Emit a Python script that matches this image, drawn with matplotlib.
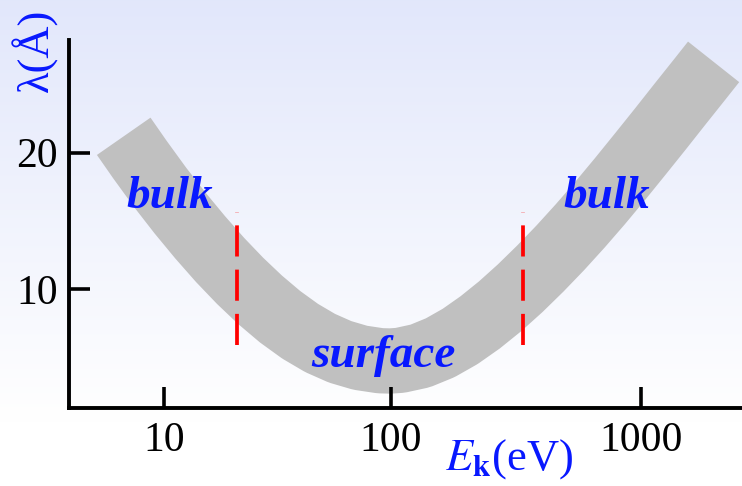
import numpy as np
import matplotlib
matplotlib.use('Agg')
import matplotlib.pyplot as plt
from matplotlib.ticker import NullLocator

# fonts
plt.rcParams['font.family'] = ['Liberation Serif', 'DejaVu Serif']
plt.rcParams['mathtext.fontset'] = 'stix'

# mean free path band (centre line), energy in eV, lambda in Angstrom
energy = [6.64, 7.84, 9.60, 11.77, 14.42, 17.66, 21.64, 26.51, 32.49, 39.81, 48.76,
          59.77, 73.21, 89.73, 99.3, 108.9, 131.0, 157.5, 189.3, 227.6, 273.6,
          329.0, 395.5, 475.5, 571.6, 687.3, 826.3, 993.6, 1195, 1436, 1727, 1952]
mfp = [21.20, 19.48, 17.47, 15.58, 13.81, 12.15, 10.62, 9.23, 7.99, 6.93, 6.07,
       5.42, 4.99, 4.77, 4.75, 4.80, 5.12, 5.72, 6.55, 7.58, 8.76,
       10.08, 11.51, 13.03, 14.64, 16.33, 18.09, 19.90, 21.73, 23.58, 25.42, 26.65]

# surface / bulk boundaries
bounds = [21, 337]
bound_lo = 5.9
bound_hi = 15.65

xticks = [10, 100, 1000]
xticklabels = ['10', '100', '1000']
yticks = [10, 20]

blue = '#0818ff'

# log axis with slightly unequal decades
def fwd(x):
    u = np.log10(np.maximum(x, 1e-12))
    return np.where(u < 2, (u - 1) * 226.7, 226.7 + (u - 2) * 250)

def inv(p):
    return np.where(p < 226.7, 10 ** (p / 226.7 + 1), 10 ** ((p - 226.7) / 250 + 2))

fig = plt.figure(figsize=(7.42, 4.86), dpi=100)

# background gradient
bg = fig.add_axes([0, 0, 1, 1], zorder=0)
grad = np.clip(np.linspace(0, 1.15, 256), 0, 1)[:, None]
top = np.array([0.886, 0.906, 0.984])
img = top[None, None, :] * (1 - grad[:, :, None]) + np.ones(3)[None, None, :] * grad[:, :, None]
bg.imshow(img, aspect='auto', extent=[0, 1, 0, 1], origin='upper')
bg.set_axis_off()

ax = fig.add_axes([69 / 742, 1 - 408 / 486, 1 - 69 / 742, (408 - 40) / 486], zorder=1)
ax.set_facecolor('none')
ax.set_xscale('function', functions=(fwd, inv))
ax.set_xlim(3.81, 2535)
ax.set_ylim(1.31, 28.25)

# the band
ax.plot(energy, mfp, color='#c0c0c0', lw=47, solid_capstyle='butt', solid_joinstyle='round', zorder=1)

# dashed boundaries
for b in bounds:
    ax.plot([b, b], [bound_lo, bound_hi], color='red', lw=2.7, dashes=(8.3, 3.5), zorder=2)

# region labels
ax.text(10.6, 15.95, 'bulk', color=blue, fontsize=34, fontweight='bold', fontstyle='italic', ha='center', va='baseline', zorder=3)
ax.text(727, 15.95, 'bulk', color=blue, fontsize=34, fontweight='bold', fontstyle='italic', ha='center', va='baseline', zorder=3)
ax.text(92.5, 4.33, 'surface', color=blue, fontsize=34, fontweight='bold', fontstyle='italic', ha='center', va='baseline', zorder=3)

# spines
ax.spines['top'].set_visible(False)
ax.spines['right'].set_visible(False)
ax.spines['left'].set_linewidth(2.8)
ax.spines['bottom'].set_linewidth(2.8)

# ticks
ax.set_xticks(xticks)
ax.set_xticklabels(xticklabels)
ax.set_yticks(yticks)
ax.xaxis.set_minor_locator(NullLocator())
ax.yaxis.set_minor_locator(NullLocator())
ax.tick_params(direction='in', length=15, width=2.6, labelsize=30)
ax.tick_params(axis='x', pad=10)
ax.tick_params(axis='y', pad=8)

# axis labels
fig.text(35 / 742, 1 - 50 / 486, 'λ(Å)', rotation=90, color=blue, fontsize=32, ha='center', va='center')
fig.text(509 / 742, 1 - 470 / 486, r'$E_{\mathbf{k}}$(eV)', color=blue, fontsize=32, ha='center', va='baseline')

fig.savefig('out.png', dpi=100)
